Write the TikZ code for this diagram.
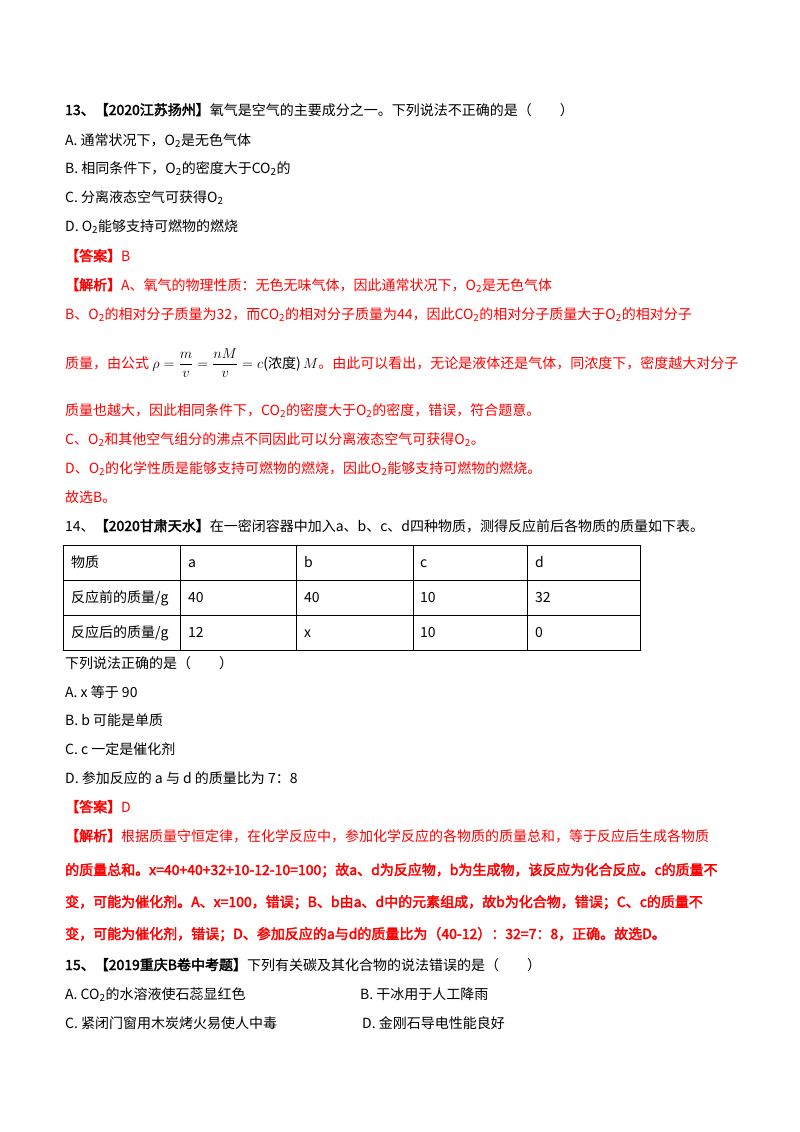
\documentclass[tikz,border=0pt]{standalone}
\usepackage{amsmath}
\usepackage{fontspec}
\setmainfont{Noto Sans CJK SC}[AutoFakeBold=2.5]
\usetikzlibrary{positioning}
\def\sub#1{\textsubscript{#1}}
\begin{document}
\begin{tikzpicture}[x=1pt,y=-1pt,font=\fontsize{14}{16}\selectfont,
    line/.style={anchor=base west,inner sep=0pt},
    ans/.style={line,text=red},
    cell/.style={anchor=base west,inner sep=0pt}]
\useasboundingbox[fill=white] (0,0) rectangle (800,1132);
% question 13
\node[line] (q13) at (65,115) {\textbf{13、【2020江苏扬州】}氧气是空气的主要成分之一。下列说法不正确的是（\qquad ）};
\node[line] (q13a) at (65,145) {A. 通常状况下，O\sub{2}是无色气体};
\node[line] (q13b) at (65,173) {B. 相同条件下，O\sub{2}的密度大于CO\sub{2}的};
\node[line] (q13c) at (65,202) {C. 分离液态空气可获得O\sub{2}};
\node[line] (q13d) at (65,231) {D. O\sub{2}能够支持可燃物的燃烧};
\node[ans] (k13) at (65,261) {\textbf{【答案】}B};
\node[ans] (j13a) at (65,290) {\textbf{【解析】}A、氧气的物理性质：无色无味气体，因此通常状况下，O\sub{2}是无色气体};
\node[ans] (j13b) at (65,319) {B、O\sub{2}的相对分子质量为32，而CO\sub{2}的相对分子质量为44，因此CO\sub{2}的相对分子质量大于O\sub{2}的相对分子};
\node[ans] (j13c) at (65,368) {质量，由公式 \textcolor{black}{$\rho=\dfrac{m}{v}=\dfrac{nM}{v}=c$(浓度)$\,M$}。由此可以看出，无论是液体还是气体，同浓度下，密度越大对分子};
\node[ans] (j13d) at (65,415) {质量也越大，因此相同条件下，CO\sub{2}的密度大于O\sub{2}的密度，错误，符合题意。};
\node[ans] (j13e) at (65,444) {C、O\sub{2}和其他空气组分的沸点不同因此可以分离液态空气可获得O\sub{2}。};
\node[ans] (j13f) at (65,473) {D、O\sub{2}的化学性质是能够支持可燃物的燃烧，因此O\sub{2}能够支持可燃物的燃烧。};
\node[ans] (j13g) at (65,502) {故选B。};
% question 14
\node[line] (q14) at (65,531) {14、\textbf{【2020甘肃天水】}在一密闭容器中加入a、b、c、d四种物质，测得反应前后各物质的质量如下表。};
\draw[thin] (63,545) rectangle (640,650);
\foreach \y in {580,615} \draw[thin] (63,\y) -- (640,\y);
\foreach \x in {180,296,413,527} \draw[thin] (\x,545) -- (\x,650);
\node[cell] (t11) at (71,567) {物质};
\node[cell] (t12) at (188,567) {a};
\node[cell] (t13) at (304,567) {b};
\node[cell] (t14) at (420,567) {c};
\node[cell] (t15) at (535,567) {d};
\node[cell] (t21) at (71,602) {反应前的质量/g};
\node[cell] (t22) at (188,602) {40};
\node[cell] (t23) at (304,602) {40};
\node[cell] (t24) at (420,602) {10};
\node[cell] (t25) at (535,602) {32};
\node[cell] (t31) at (71,637) {反应后的质量/g};
\node[cell] (t32) at (188,637) {12};
\node[cell] (t33) at (304,637) {x};
\node[cell] (t34) at (420,637) {10};
\node[cell] (t35) at (535,637) {0};
\node[line] (q14s) at (65,668) {下列说法正确的是（\qquad ）};
\node[line] (q14a) at (65,697) {A. x 等于 90};
\node[line] (q14b) at (65,725) {B. b 可能是单质};
\node[line] (q14c) at (65,754) {C. c 一定是催化剂};
\node[line] (q14d) at (65,783) {D. 参加反应的 a 与 d 的质量比为 7：8};
\node[ans] (k14) at (65,812) {\textbf{【答案】}D};
\node[ans] (j14a) at (65,841) {\textbf{【解析】}根据质量守恒定律，在化学反应中，参加化学反应的各物质的质量总和，等于反应后生成各物质};
\node[ans] (j14b) at (65,875) {\textbf{的质量总和。x=40+40+32+10-12-10=100；故a、d为反应物，b为生成物，该反应为化合反应。c的质量不}};
\node[ans] (j14c) at (65,907) {\textbf{变，可能为催化剂。A、x=100，错误；B、b由a、d中的元素组成，故b为化合物，错误；C、c的质量不}};
\node[ans] (j14d) at (65,939) {\textbf{变，可能为催化剂，错误；D、参加反应的a与d的质量比为（40-12）：32=7：8，正确。故选D。}};
% question 15
\node[line] (q15) at (65,970) {\textbf{15、【2019重庆B卷中考题】}下列有关碳及其化合物的说法错误的是（\qquad ）};
\node[line] (q15a) at (65,999) {A. CO\sub{2}的水溶液使石蕊显红色};
\node[line] (q15b) at (360,999) {B. 干冰用于人工降雨};
\node[line] (q15c) at (65,1028) {C. 紧闭门窗用木炭烤火易使人中毒};
\node[line] (q15d) at (362,1028) {D. 金刚石导电性能良好};
\end{tikzpicture}
\end{document}
